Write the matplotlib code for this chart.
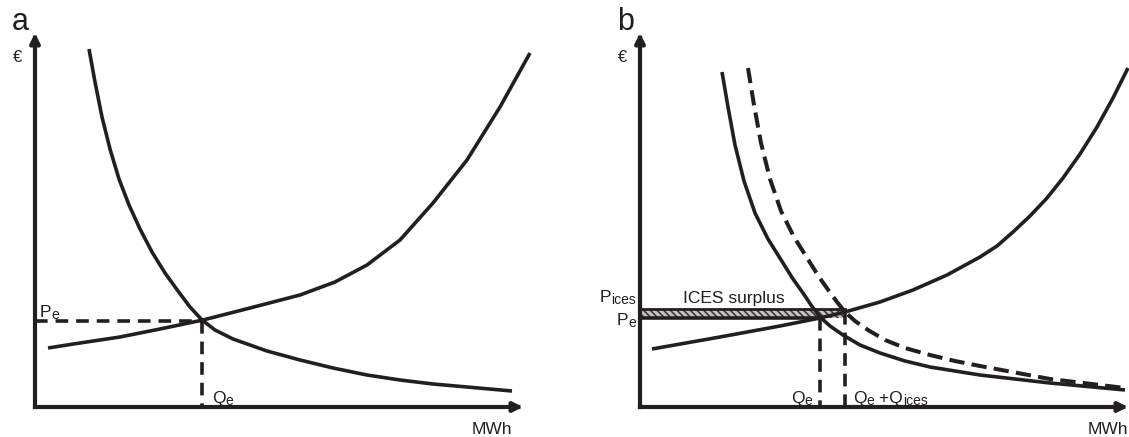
import matplotlib
matplotlib.use("Agg")
import matplotlib.pyplot as plt
from matplotlib.transforms import ScaledTranslation

plt.rcParams['font.family'] = ['Liberation Sans', 'DejaVu Sans']
plt.rcParams['hatch.color'] = '#3a3a3a'
plt.rcParams['hatch.linewidth'] = 1.2

INK = '#231f20'
DPI = 100

# --- panel a: supply / demand (quantity, price in arbitrary units) ---
supply_a_q = [13, 45, 85, 125, 168, 215, 265, 300, 332, 365, 398, 432, 465, 495]
supply_a_p = [59, 64, 70, 78, 87, 99, 112, 125, 142, 167, 204, 247, 300, 354]

demand_a_q = [54, 60, 67, 75, 84, 94, 105, 117, 130, 143, 155, 167, 180, 198, 215, 232,
              265, 298, 332, 365, 398, 432, 477]
demand_a_p = [358, 325, 290, 258, 228, 202, 178, 155, 134, 116, 100, 87, 77, 68, 62, 56,
              47, 39, 32, 27, 23, 20, 16]

pe_a = 86
qe_a = 167

# --- panel b: with ICES ---
supply_b_q = [12, 80, 140, 180, 205, 240, 273, 307, 340, 357, 373, 390, 407, 423, 440, 457, 473, 488]
supply_b_p = [58, 70, 81, 89, 95, 105, 117, 132, 150, 161, 175, 191, 209, 229, 253, 280, 309, 339]

demand_b_q = [82, 88, 95, 104, 115, 128, 143, 153, 163, 171, 180, 190, 203, 220, 240, 265,
              290, 340, 410, 485]
demand_b_p = [335, 300, 262, 226, 194, 168, 144, 128, 114, 102, 90, 81, 72, 62, 54, 46,
              40, 32, 24, 17]

demand_ices_q = [108, 114, 121, 130, 141, 154, 169, 179, 189, 197, 205, 215, 228, 245, 265,
                 290, 315, 340, 410, 485]
demand_ices_p = [339, 302, 264, 228, 196, 170, 146, 130, 116, 105, 95, 86, 77, 67, 59,
                 52, 46, 41, 28, 19]

pe_b = 89
pices_b = 98
qe_b = 180
qices_b = 205

W, H = 488, 374

fig = plt.figure(figsize=(11.29, 4.37), dpi=DPI)
ax_a = fig.add_axes([35 / 1129, 30 / 437, W / 1129, H / 437])
ax_b = fig.add_axes([640 / 1129, 30 / 437, W / 1129, H / 437])
renderer = fig.canvas.get_renderer()


def label(ax, x, y, parts, ha='left', size=12.5, sub=10):
    # parts: list of (text, is_subscript); x, y is the baseline anchor in data units
    pieces = []
    for s, is_sub in parts:
        t = ax.text(0, 0, s, fontsize=sub if is_sub else size, color=INK)
        pieces.append((t, t.get_window_extent(renderer).width * 72 / DPI, is_sub))
    total = sum(w for _, w, _ in pieces)
    dx = -total if ha == 'right' else 0
    for t, w, is_sub in pieces:
        dy = -1.5 if is_sub else 0
        t.set_position((x, y))
        t.set_va('baseline')
        t.set_ha('left')
        t.set_transform(ax.transData + ScaledTranslation(dx / 72, dy / 72, fig.dpi_scale_trans))
        dx += w


def draw_axes(ax, letter, mwh_right):
    ax.set_xlim(0, W)
    ax.set_ylim(0, H)
    ax.axis('off')
    arrow = dict(arrowstyle='-|>', lw=3.0, color=INK, mutation_scale=14,
                 shrinkA=0, shrinkB=0, capstyle='projecting')
    ax.annotate('', xy=(W, 0), xytext=(0, 0), arrowprops=arrow, annotation_clip=False)
    ax.annotate('', xy=(0, H), xytext=(0, 0), arrowprops=arrow, annotation_clip=False)
    ax.text(-23, 377, letter, fontsize=22, color=INK, ha='left', va='baseline')
    ax.text(-22, 350, '€', fontsize=12, color=INK, ha='left', va='center')
    ax.text(mwh_right, -27, 'MWh', fontsize=12.5, color=INK, ha='right', va='baseline')


draw_axes(ax_a, 'a', 477)
draw_axes(ax_b, 'b', 488)

curve = dict(color=INK, lw=2.6, clip_on=False, solid_capstyle='butt', solid_joinstyle='round')
dash = dict(color=INK, lw=2.6, clip_on=False, dashes=(3.5, 2.2))

# panel a
ax_a.plot(supply_a_q, supply_a_p, **curve)
ax_a.plot(demand_a_q, demand_a_p, **curve)
ax_a.plot([0, qe_a], [pe_a, pe_a], **dash)
ax_a.plot([qe_a, qe_a], [pe_a, 0], **dash)
label(ax_a, 5, 90, [('P', False), ('e', True)])
label(ax_a, qe_a + 10, 4, [('Q', False), ('e', True)])

# panel b
ax_b.fill_between([0, qices_b], pe_b, pices_b, facecolor='#c4c4c4',
                  edgecolor='#3a3a3a', hatch='\\\\\\\\\\', lw=0)
ax_b.plot([0, qices_b], [pices_b, pices_b], color=INK, lw=2.0)
ax_b.plot([0, qe_b], [pe_b, pe_b], color=INK, lw=2.6)
ax_b.plot(supply_b_q, supply_b_p, **curve)
ax_b.plot(demand_b_q, demand_b_p, **curve)
ax_b.plot(demand_ices_q, demand_ices_p, **dict(dash, dashes=(3.8, 1.8), lw=2.9))
ax_b.plot([qe_b, qe_b], [pe_b, 0], **dash)
ax_b.plot([qices_b, qices_b], [pices_b - 3, 0], **dash)

label(ax_b, -4, 105, [('P', False), ('ices', True)], ha='right')
label(ax_b, -4, 82, [('P', False), ('e', True)], ha='right')
ax_b.text(43, 104, 'ICES surplus', fontsize=12.5, color=INK, va='baseline')
label(ax_b, qe_b - 8, 4, [('Q', False), ('e', True)], ha='right')
label(ax_b, qices_b + 8, 4, [('Q', False), ('e', True), (' +Q', False), ('ices', True)])

fig.savefig('out.png', dpi=DPI, facecolor='white')
